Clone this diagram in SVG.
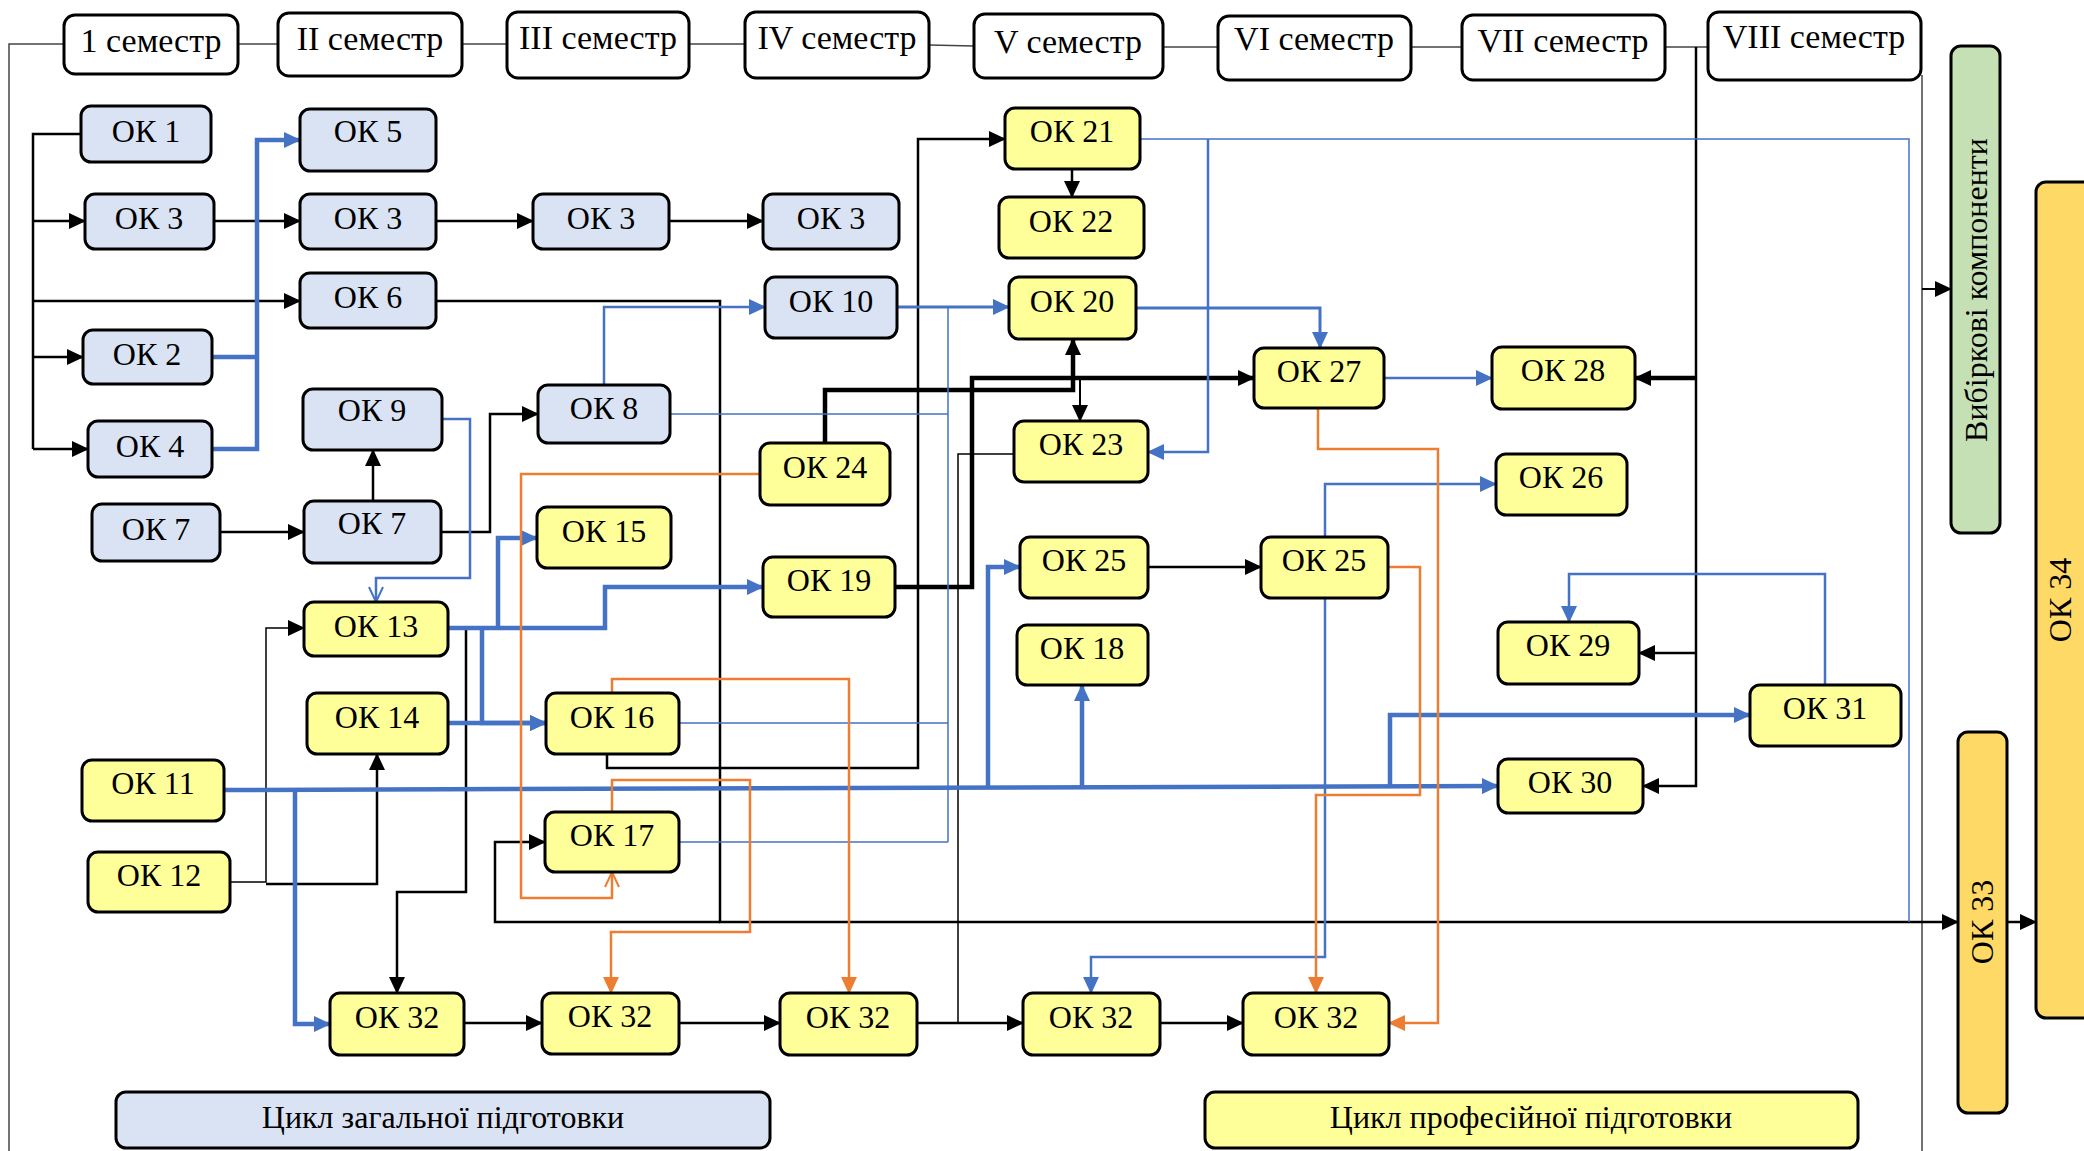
<svg xmlns="http://www.w3.org/2000/svg" width="2084" height="1151" viewBox="0 0 2084 1151">
<style>
.hd{fill:#fff;stroke:#000;stroke-width:3}
.nb{fill:#DAE3F3;stroke:#000;stroke-width:3}
.ny{fill:#FFFF99;stroke:#000;stroke-width:3}
.t{font-family:"Liberation Serif","Times New Roman",serif;font-size:32px;fill:#000;text-anchor:middle}
.th{font-family:"Liberation Serif","Times New Roman",serif;font-size:34px;fill:#000;text-anchor:middle}
.tl{font-family:"Liberation Serif","Times New Roman",serif;font-size:32px;fill:#000;text-anchor:middle}
.fr{fill:none;stroke:#444;stroke-width:1.5}
.k{fill:none;stroke:#000;stroke-width:2.5}
.k1{fill:none;stroke:#000;stroke-width:1.5}
.k2{fill:none;stroke:#000;stroke-width:2}
.kk{fill:none;stroke:#000;stroke-width:4.5}
.b{fill:none;stroke:#4472C4;stroke-width:4.5}
.bm{fill:none;stroke:#4472C4;stroke-width:3}
.bn{fill:none;stroke:#4472C4;stroke-width:2.5}
.bt{fill:none;stroke:#4472C4;stroke-width:1.5}
.o{fill:none;stroke:#ED7D31;stroke-width:2.5}
</style>
<defs>
<marker id="ak" markerUnits="userSpaceOnUse" markerWidth="17" markerHeight="16" viewBox="0 0 17 16" refX="16" refY="8" orient="auto"><path d="M0,0 L17,8 L0,16 z" fill="#000"/></marker>
<marker id="ab" markerUnits="userSpaceOnUse" markerWidth="17" markerHeight="16" viewBox="0 0 17 16" refX="16" refY="8" orient="auto"><path d="M0,0 L17,8 L0,16 z" fill="#4472C4"/></marker>
<marker id="ao" markerUnits="userSpaceOnUse" markerWidth="17" markerHeight="16" viewBox="0 0 17 16" refX="16" refY="8" orient="auto"><path d="M0,0 L17,8 L0,16 z" fill="#ED7D31"/></marker>
<marker id="vb" markerUnits="userSpaceOnUse" markerWidth="18" markerHeight="18" viewBox="0 0 18 18" refX="16" refY="9" orient="auto"><path d="M1,2 L16,9 L1,16" fill="none" stroke="#4472C4" stroke-width="2"/></marker>
<marker id="vo" markerUnits="userSpaceOnUse" markerWidth="18" markerHeight="18" viewBox="0 0 18 18" refX="16" refY="9" orient="auto"><path d="M1,2 L16,9 L1,16" fill="none" stroke="#ED7D31" stroke-width="2"/></marker>
</defs>

<g id="frame">
<path class="fr" d="M9,1151 V44 H64 M238,44 H278 M462,44 H507 M689,44 H745 M929,45 L974,46 M1163,47 H1218 M1411,47 H1462 M1665,47 H1708 M1922,75 V1151"/>
</g>

<g id="connectors">
<path class="k" d="M81,134 H33 V449"/>
<path class="k" d="M33,221 H85" marker-end="url(#ak)"/>
<path class="k" d="M33,301 H300" marker-end="url(#ak)"/>
<path class="k" d="M33,357 H83" marker-end="url(#ak)"/>
<path class="k" d="M33,449 H88" marker-end="url(#ak)"/>
<path class="k" d="M214,221 H300" marker-end="url(#ak)"/>
<path class="k" d="M436,221 H533" marker-end="url(#ak)"/>
<path class="k" d="M669,221 H763" marker-end="url(#ak)"/>
<path class="k" d="M436,301 H720 V922 H1958" marker-end="url(#ak)"/>
<path class="k" d="M720,922 H495 V842 H545" marker-end="url(#ak)"/>
<path class="k" d="M220,532 H304" marker-end="url(#ak)"/>
<path class="k" d="M373,501 V450" marker-end="url(#ak)"/>
<path class="k" d="M441,532 H490 V414 H538" marker-end="url(#ak)"/>
<path class="k" d="M607,754 V768 H918 V139 H1005" marker-end="url(#ak)"/>
<path class="k" d="M1072,169 V197" marker-end="url(#ak)"/>
<path class="k" d="M448,628 H466 V892 H397 V993" marker-end="url(#ak)"/>
<path class="k" d="M266,884 H377 V754" marker-end="url(#ak)"/>
<path class="k" d="M1148,567 H1261" marker-end="url(#ak)"/>
<path class="k" d="M464,1023 H542" marker-end="url(#ak)"/>
<path class="k" d="M679,1023 H780" marker-end="url(#ak)"/>
<path class="k" d="M917,1023 H1023" marker-end="url(#ak)"/>
<path class="k" d="M1160,1023 H1243" marker-end="url(#ak)"/>
<path class="k2" d="M1922,289 H1951" marker-end="url(#ak)"/>
<path class="k" d="M2007,922 H2036" marker-end="url(#ak)"/>
<path class="k" d="M1696,47 V786 H1643" marker-end="url(#ak)"/>
<path class="k" d="M1696,653 H1639" marker-end="url(#ak)"/>
<path class="k1" d="M230,882 H266 V628 H304" marker-end="url(#ak)"/>
<path class="k2" d="M1080,378 V421" marker-end="url(#ak)"/>
<path class="k1" d="M1014,454 H958 V1023"/>
<path class="kk" d="M825,443 V390 H1073 V339" marker-end="url(#ak)"/>
<path class="kk" d="M895,587 H972 V378 H1254" marker-end="url(#ak)"/>
<path class="kk" d="M1696,378 H1635" marker-end="url(#ak)"/>
<path class="b" d="M212,357 H257"/>
<path class="b" d="M212,449 H257 V140 H300" marker-end="url(#ab)"/>
<path class="b" d="M448,628 H605 V587 H763" marker-end="url(#ab)"/>
<path class="b" d="M498,628 V538 H537" marker-end="url(#ab)"/>
<path class="b" d="M482,628 V723 H546" marker-end="url(#ab)"/>
<path class="b" d="M448,723 H546" marker-end="url(#ab)"/>
<path class="b" d="M224,790 L1498,786" marker-end="url(#ab)"/>
<path class="b" d="M295,790 V1024 H330" marker-end="url(#ab)"/>
<path class="b" d="M988,789 V567 H1020" marker-end="url(#ab)"/>
<path class="b" d="M1082,788 V685" marker-end="url(#ab)"/>
<path class="b" d="M1390,787 V715 H1750" marker-end="url(#ab)"/>
<path class="bm" d="M897,307 H1009" marker-end="url(#ab)"/>
<path class="bm" d="M1136,308 H1320 V348" marker-end="url(#ab)"/>
<path class="bn" d="M1384,378 H1492" marker-end="url(#ab)"/>
<path class="bn" d="M442,419 H470 V578 H376 V602" marker-end="url(#vb)"/>
<path class="bn" d="M604,385 V307 H765" marker-end="url(#ab)"/>
<path class="bt" d="M670,414 H948 M679,723 H948 M679,842 H948 M948,307 V842"/>
<path class="bt" d="M1140,139 H1909 V922"/>
<path class="bn" d="M1208,139 V452 H1148" marker-end="url(#ab)"/>
<path class="bn" d="M1325,537 V484 H1496" marker-end="url(#ab)"/>
<path class="bn" d="M1325,598 V957 H1091 V993" marker-end="url(#ab)"/>
<path class="bn" d="M1825,685 V574 H1569 V622" marker-end="url(#ab)"/>
<path class="o" d="M760,474 H521 V898 H612 V872" marker-end="url(#vo)"/>
<path class="o" d="M612,693 V679 H849 V993" marker-end="url(#ao)"/>
<path class="o" d="M612,812 V780 H750 V932 H611 V993" marker-end="url(#ao)"/>
<path class="o" d="M1318,408 V449 H1438 V1023 H1389" marker-end="url(#ao)"/>
<path class="o" d="M1388,567 H1420 V795 H1316 V993" marker-end="url(#ao)"/>
</g>

<g id="h1"><rect class="hd" x="64" y="15" width="174" height="59" rx="11"/><text class="th" x="151" y="52">1 семестр</text></g>
<g id="h2"><rect class="hd" x="278" y="13" width="184" height="63" rx="11"/><text class="th" x="370" y="50">II семестр</text></g>
<g id="h3"><rect class="hd" x="507" y="12" width="182" height="66" rx="11"/><text class="th" x="598" y="49">III семестр</text></g>
<g id="h4"><rect class="hd" x="745" y="12" width="184" height="66" rx="11"/><text class="th" x="837" y="49">IV семестр</text></g>
<g id="h5"><rect class="hd" x="974" y="14" width="189" height="64" rx="11"/><text class="th" x="1068" y="53">V семестр</text></g>
<g id="h6"><rect class="hd" x="1218" y="16" width="193" height="64" rx="11"/><text class="th" x="1314" y="50">VI семестр</text></g>
<g id="h7"><rect class="hd" x="1462" y="15" width="203" height="65" rx="11"/><text class="th" x="1563" y="52">VII семестр</text></g>
<g id="h8"><rect class="hd" x="1708" y="12" width="213" height="68" rx="11"/><text class="th" x="1814" y="48">VIII семестр</text></g>

<g id="ok1"><rect class="nb" x="81" y="106" width="130" height="56" rx="10"/><text class="t" x="146" y="142">ОК 1</text></g>
<g id="ok3a"><rect class="nb" x="85" y="194" width="129" height="55" rx="10"/><text class="t" x="149" y="229">ОК 3</text></g>
<g id="ok2"><rect class="nb" x="83" y="330" width="129" height="54" rx="10"/><text class="t" x="147" y="365">ОК 2</text></g>
<g id="ok4"><rect class="nb" x="88" y="421" width="124" height="56" rx="10"/><text class="t" x="150" y="457">ОК 4</text></g>
<g id="ok7a"><rect class="nb" x="92" y="504" width="128" height="57" rx="10"/><text class="t" x="156" y="540">ОК 7</text></g>
<g id="ok5"><rect class="nb" x="300" y="109" width="136" height="62" rx="10"/><text class="t" x="368" y="142">ОК 5</text></g>
<g id="ok3b"><rect class="nb" x="300" y="194" width="136" height="55" rx="10"/><text class="t" x="368" y="229">ОК 3</text></g>
<g id="ok6"><rect class="nb" x="300" y="273" width="136" height="55" rx="10"/><text class="t" x="368" y="308">ОК 6</text></g>
<g id="ok9"><rect class="nb" x="303" y="389" width="139" height="61" rx="10"/><text class="t" x="372" y="421">ОК 9</text></g>
<g id="ok7b"><rect class="nb" x="304" y="501" width="137" height="62" rx="10"/><text class="t" x="372" y="534">ОК 7</text></g>
<g id="ok13"><rect class="ny" x="304" y="602" width="144" height="54" rx="10"/><text class="t" x="376" y="637">ОК 13</text></g>
<g id="ok14"><rect class="ny" x="307" y="693" width="141" height="61" rx="10"/><text class="t" x="377" y="728">ОК 14</text></g>
<g id="ok11"><rect class="ny" x="82" y="760" width="142" height="61" rx="10"/><text class="t" x="153" y="794">ОК 11</text></g>
<g id="ok12"><rect class="ny" x="88" y="852" width="142" height="60" rx="10"/><text class="t" x="159" y="886">ОК 12</text></g>
<g id="ok32a"><rect class="ny" x="330" y="993" width="134" height="62" rx="10"/><text class="t" x="397" y="1028">ОК 32</text></g>
<g id="ok3c"><rect class="nb" x="533" y="194" width="136" height="55" rx="10"/><text class="t" x="601" y="229">ОК 3</text></g>
<g id="ok8"><rect class="nb" x="538" y="385" width="132" height="58" rx="10"/><text class="t" x="604" y="419">ОК 8</text></g>
<g id="ok15"><rect class="ny" x="537" y="507" width="134" height="61" rx="10"/><text class="t" x="604" y="542">ОК 15</text></g>
<g id="ok16"><rect class="ny" x="546" y="693" width="133" height="61" rx="10"/><text class="t" x="612" y="728">ОК 16</text></g>
<g id="ok17"><rect class="ny" x="545" y="812" width="134" height="60" rx="10"/><text class="t" x="612" y="846">ОК 17</text></g>
<g id="ok32b"><rect class="ny" x="542" y="993" width="137" height="61" rx="10"/><text class="t" x="610" y="1027">ОК 32</text></g>
<g id="ok3d"><rect class="nb" x="763" y="194" width="136" height="55" rx="10"/><text class="t" x="831" y="229">ОК 3</text></g>
<g id="ok10"><rect class="nb" x="765" y="277" width="132" height="61" rx="10"/><text class="t" x="831" y="312">ОК 10</text></g>
<g id="ok24"><rect class="ny" x="760" y="443" width="130" height="62" rx="10"/><text class="t" x="825" y="478">ОК 24</text></g>
<g id="ok19"><rect class="ny" x="763" y="557" width="132" height="60" rx="10"/><text class="t" x="829" y="591">ОК 19</text></g>
<g id="ok32c"><rect class="ny" x="780" y="993" width="137" height="62" rx="10"/><text class="t" x="848" y="1028">ОК 32</text></g>
<g id="ok21"><rect class="ny" x="1005" y="108" width="135" height="61" rx="10"/><text class="t" x="1072" y="142">ОК 21</text></g>
<g id="ok22"><rect class="ny" x="999" y="197" width="145" height="61" rx="10"/><text class="t" x="1071" y="232">ОК 22</text></g>
<g id="ok20"><rect class="ny" x="1009" y="277" width="127" height="62" rx="10"/><text class="t" x="1072" y="312">ОК 20</text></g>
<g id="ok23"><rect class="ny" x="1014" y="421" width="134" height="61" rx="10"/><text class="t" x="1081" y="455">ОК 23</text></g>
<g id="ok25a"><rect class="ny" x="1020" y="537" width="128" height="61" rx="10"/><text class="t" x="1084" y="571">ОК 25</text></g>
<g id="ok18"><rect class="ny" x="1017" y="625" width="131" height="60" rx="10"/><text class="t" x="1082" y="659">ОК 18</text></g>
<g id="ok32d"><rect class="ny" x="1023" y="993" width="137" height="62" rx="10"/><text class="t" x="1091" y="1028">ОК 32</text></g>
<g id="ok27"><rect class="ny" x="1254" y="348" width="130" height="60" rx="10"/><text class="t" x="1319" y="382">ОК 27</text></g>
<g id="ok25b"><rect class="ny" x="1261" y="537" width="127" height="61" rx="10"/><text class="t" x="1324" y="571">ОК 25</text></g>
<g id="ok32e"><rect class="ny" x="1243" y="993" width="146" height="62" rx="10"/><text class="t" x="1316" y="1028">ОК 32</text></g>
<g id="ok28"><rect class="ny" x="1492" y="347" width="143" height="62" rx="10"/><text class="t" x="1563" y="381">ОК 28</text></g>
<g id="ok26"><rect class="ny" x="1496" y="454" width="131" height="61" rx="10"/><text class="t" x="1561" y="488">ОК 26</text></g>
<g id="ok29"><rect class="ny" x="1498" y="622" width="141" height="62" rx="10"/><text class="t" x="1568" y="656">ОК 29</text></g>
<g id="ok30"><rect class="ny" x="1498" y="759" width="145" height="54" rx="10"/><text class="t" x="1570" y="793">ОК 30</text></g>
<g id="ok31"><rect class="ny" x="1750" y="685" width="151" height="61" rx="10"/><text class="t" x="1825" y="719">ОК 31</text></g>

<g id="elective"><rect x="1951" y="46" width="49" height="487" rx="10" fill="#C5E0B4" stroke="#000" stroke-width="3"/><text class="tl" transform="translate(1987,290) rotate(-90)">Вибіркові компоненти</text></g>
<g id="ok33"><rect x="1958" y="732" width="49" height="381" rx="10" fill="#FFD966" stroke="#000" stroke-width="3"/><text class="t" transform="translate(1993,922) rotate(-90)">ОК 33</text></g>
<g id="ok34"><rect x="2036" y="182" width="60" height="836" rx="10" fill="#FFD966" stroke="#000" stroke-width="3"/><text class="t" transform="translate(2071,600) rotate(-90)">ОК 34</text></g>

<g id="legend1"><rect class="nb" x="116" y="1092" width="654" height="56" rx="10"/><text class="tl" x="443" y="1128">Цикл загальної підготовки</text></g>
<g id="legend2"><rect class="ny" x="1205" y="1092" width="653" height="56" rx="10"/><text class="tl" x="1531" y="1128">Цикл професійної підготовки</text></g>
</svg>
